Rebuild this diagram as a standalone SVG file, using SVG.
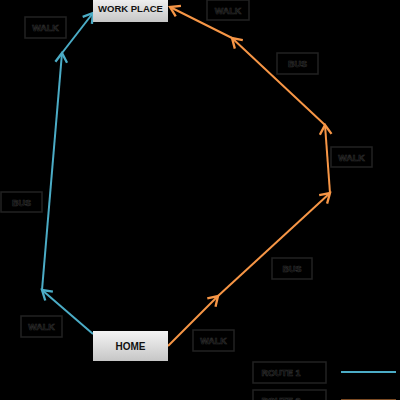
<svg xmlns="http://www.w3.org/2000/svg" width="400" height="400" viewBox="0 0 400 400">
<defs>
<linearGradient id="g" x1="0" y1="0" x2="0" y2="1">
<stop offset="0" stop-color="#f4f4f4"/>
<stop offset="1" stop-color="#c6c6c6"/>
</linearGradient>
<marker id="ab" markerUnits="userSpaceOnUse" markerWidth="14" markerHeight="14" refX="10" refY="6" orient="auto" viewBox="0 0 12 12">
<path d="M2,1 L10,6 L2,11" fill="none" stroke="#4bacc6" stroke-width="2"/>
</marker>
<marker id="ao" markerUnits="userSpaceOnUse" markerWidth="14" markerHeight="14" refX="10" refY="6" orient="auto" viewBox="0 0 12 12">
<path d="M2,1 L10,6 L2,11" fill="none" stroke="#f79646" stroke-width="2"/>
</marker>
</defs>
<style>
.bg{fill:#000}
.node rect{fill:url(#g);stroke:none}
.node text{font-family:"Liberation Sans",Arial,sans-serif;font-weight:bold;fill:#111;text-anchor:middle}
.lbl rect{fill:#000;stroke:#222;stroke-width:1.5}
.lbl text{font-family:"Liberation Sans",Arial,sans-serif;font-weight:bold;font-size:9px;fill:#000;stroke:#303030;stroke-width:0.6;text-anchor:middle}
.b{stroke:#4bacc6;stroke-width:2;fill:none;marker-end:url(#ab)}
.o{stroke:#f79646;stroke-width:2;fill:none;marker-end:url(#ao)}
</style>
<rect class="bg" x="0" y="0" width="400" height="400"/>
<g id="connectors">
<line class="b" x1="93" y1="334" x2="42" y2="290"/>
<line class="b" x1="42" y1="290" x2="62" y2="53"/>
<line class="b" x1="62" y1="53" x2="93" y2="13"/>
<line class="o" x1="168" y1="346" x2="218" y2="296"/>
<line class="o" x1="218" y1="296" x2="330" y2="193"/>
<line class="o" x1="330" y1="193" x2="325" y2="125"/>
<line class="o" x1="325" y1="125" x2="232" y2="38"/>
<line class="o" x1="232" y1="38" x2="170" y2="7"/>
</g>
<g id="work-place" class="node">
<rect x="93" y="-3" width="75" height="25"/>
<text x="130.5" y="11.5" font-size="9.5">WORK PLACE</text>
</g>
<g id="home" class="node">
<rect x="93" y="331" width="75" height="30"/>
<text x="130.5" y="350" font-size="10">HOME</text>
</g>
<g id="lbl-walk1" class="lbl"><rect x="25" y="17" width="41" height="21"/><text x="45.5" y="31">WALK</text></g>
<g id="lbl-walk2" class="lbl"><rect x="207" y="0" width="42" height="20"/><text x="228" y="14">WALK</text></g>
<g id="lbl-bus1" class="lbl"><rect x="277" y="53" width="41" height="21"/><text x="297.5" y="67">BUS</text></g>
<g id="lbl-walk3" class="lbl"><rect x="331" y="147" width="41" height="20"/><text x="351.5" y="161">WALK</text></g>
<g id="lbl-bus2" class="lbl"><rect x="272" y="258" width="40" height="21"/><text x="292" y="272">BUS</text></g>
<g id="lbl-walk4" class="lbl"><rect x="193" y="330" width="41" height="21"/><text x="213.5" y="344">WALK</text></g>
<g id="lbl-bus3" class="lbl"><rect x="1" y="192" width="41" height="20"/><text x="21.5" y="206">BUS</text></g>
<g id="lbl-walk5" class="lbl"><rect x="21" y="316" width="41" height="21"/><text x="41.5" y="330">WALK</text></g>
<g id="legend">
<g id="lbl-route1" class="lbl"><rect x="253" y="362" width="73" height="21"/><text x="281" y="376">ROUTE 1</text></g>
<g id="lbl-route2" class="lbl"><rect x="253" y="390" width="73" height="21"/><text x="281" y="404">ROUTE 2</text></g>
<line x1="341" y1="372" x2="396" y2="372" stroke="#4bacc6" stroke-width="2"/>
<line x1="341" y1="400.4" x2="396" y2="400.4" stroke="#f79646" stroke-width="2"/>
</g>
</svg>
